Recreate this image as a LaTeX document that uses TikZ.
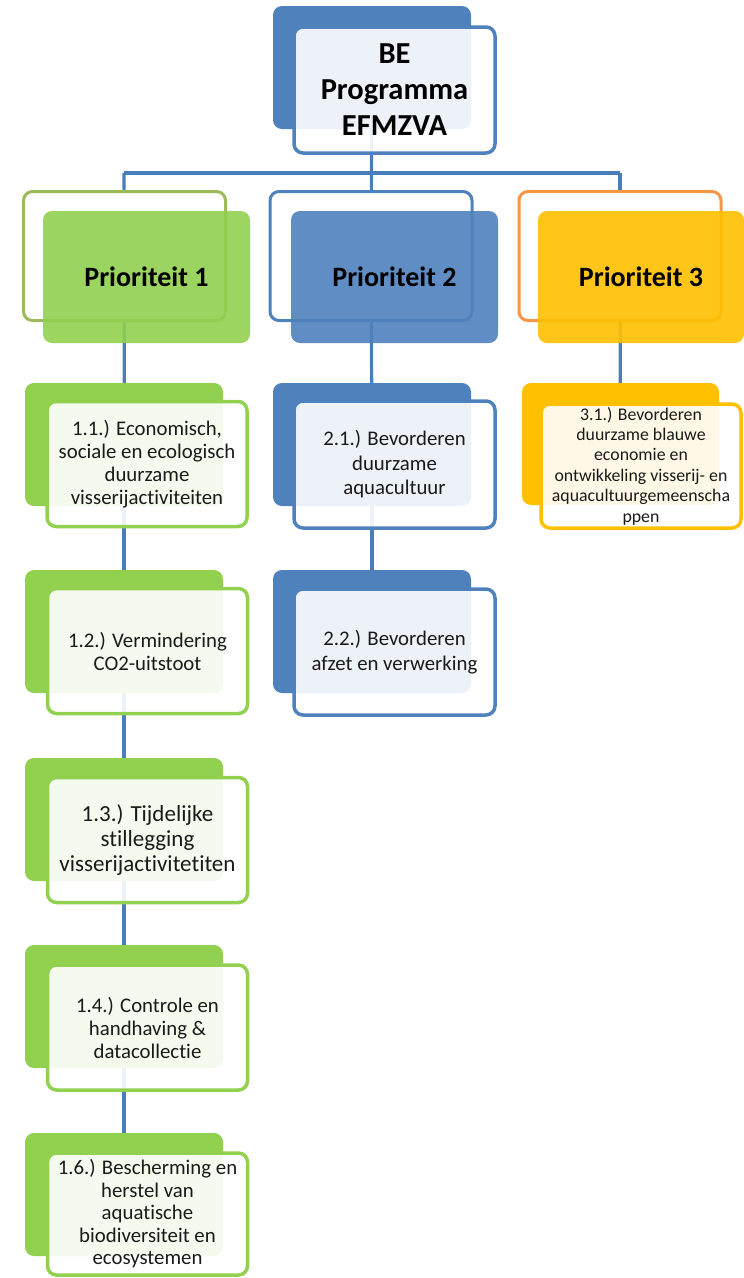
\documentclass[tikz,border=0pt]{standalone}
\usepackage{fontspec}
\setmainfont{Carlito}[Ligatures={NoCommon,NoContextual}]
\usetikzlibrary{positioning}
\definecolor{cblue}{HTML}{4F81BD}
\definecolor{cline}{HTML}{4A7EBB}
\definecolor{cgreen}{HTML}{92D050}
\definecolor{colive}{HTML}{9BBB59}
\definecolor{cgold}{HTML}{FFC000}
\definecolor{corange}{HTML}{F79646}
\definecolor{ctext}{HTML}{1A1A1A}
\pgfdeclarelayer{background}
\pgfsetlayers{background,main}
\tikzset{
  bx/.style={rectangle, rounded corners=9pt, inner sep=0pt, align=center},
  backbox/.style={bx, fill=#1, draw=none, minimum width=198pt, minimum height=123pt},
  frontbox/.style={bx, fill=white, fill opacity=0.9, text opacity=1, draw=#1, line width=3.5pt, minimum width=200pt, minimum height=125pt, text=ctext},
  outbox/.style={bx, fill=white, draw=#1, line width=3pt, minimum width=202pt, minimum height=129pt},
  fillbox/.style={bx, fill=#1, fill opacity=0.9, text opacity=1, draw=none, minimum width=207pt, minimum height=132pt, font=\fontsize{28}{32}\selectfont\bfseries},
  conn/.style={draw=cline, line width=3.2pt},
}
\begin{document}
\begin{tikzpicture}[x=1pt,y=-1pt]
\useasboundingbox (0,0) rectangle (744,1278);
% top
\node[backbox=cblue] (topb) at (372,67.5) {};
\node[frontbox=cblue, minimum width=201pt, minimum height=126pt, font=\fontsize{30.5}{36}\selectfont\bfseries, text=black] (top) at (394.5,90) {BE\\Programma\\EFMZVA};
% priorities
\node[outbox=colive] (p1o) at (124.5,256) {};
\node[fillbox=cgreen] (p1) at (146.5,277) {Prioriteit 1};
\node[outbox=cblue] (p2o) at (371,256) {};
\node[fillbox=cblue] (p2) at (394.5,277) {Prioriteit 2};
\node[outbox=corange] (p3o) at (620,256) {};
\node[fillbox=cgold, minimum width=206pt] (p3) at (641,277) {Prioriteit 3};
% column 1
\node[backbox=cgreen] (c11b) at (124,444.5) {};
\node[frontbox=cgreen, font=\fontsize{20.8}{23}\selectfont] (c11) at (147,464) {1.1.) Economisch,\\sociale en ecologisch\\duurzame\\visserijactiviteiten};
\node[backbox=cgreen] (c12b) at (124,631.5) {};
\node[frontbox=cgreen, font=\fontsize{20.8}{23}\selectfont] (c12) at (147.5,651) {1.2.) Vermindering\\CO2-uitstoot};
\node[backbox=cgreen] (c13b) at (124,819.5) {};
\node[frontbox=cgreen, font=\fontsize{23}{25}\selectfont] (c13) at (147.5,840) {1.3.) Tijdelijke\\stillegging\\visserijactivitetiten};
\node[backbox=cgreen] (c14b) at (124,1006.5) {};
\node[frontbox=cgreen, font=\fontsize{20.8}{23}\selectfont] (c14) at (147.5,1027.5) {1.4.) Controle en\\handhaving \&\\datacollectie};
\node[backbox=cgreen] (c16b) at (124,1194.5) {};
\node[frontbox=cgreen, minimum height=122pt, font=\fontsize{20.8}{22.5}\selectfont] (c16) at (147.5,1214) {1.6.) Bescherming en\\herstel van\\aquatische\\biodiversiteit en\\ecosystemen};
% column 2
\node[backbox=cblue] (c21b) at (372,444.5) {};
\node[frontbox=cblue, minimum width=201pt, minimum height=127pt, font=\fontsize{20.8}{24.5}\selectfont] (c21) at (394.5,464.5) {2.1.) Bevorderen\\duurzame\\aquacultuur};
\node[backbox=cblue] (c22b) at (372,631.5) {};
\node[frontbox=cblue, minimum width=201pt, minimum height=126pt, font=\fontsize{20.8}{24.5}\selectfont] (c22) at (394.5,652) {2.2.) Bevorderen\\afzet en verwerking};
% column 3
\node[backbox=cgold, minimum width=197pt, minimum height=122pt] (c31b) at (620.5,444) {};
\node[frontbox=cgold, minimum width=200pt, minimum height=124pt, font=\fontsize{17.8}{20.4}\selectfont] (c31) at (641,466) {3.1.) Bevorderen\\duurzame blauwe\\economie en\\ontwikkeling visserij- en\\aquacultuurgemeenscha\\ppen};
% connectors
\coordinate (b1) at (124,173);
\coordinate (b3) at (620,173);
\begin{pgfonlayer}{background}
\draw[conn] (b1) -- (b3);
\draw[conn] (topb.center) -- (p2o.center);
\draw[conn] (b1) -- (p1o.center);
\draw[conn] (b3) -- (p3o.center);
\draw[conn] (p1o.center) -- (c11b.center);
\draw[conn] (c11b.center) -- (c12b.center);
\draw[conn] (c12b.center) -- (c13b.center);
\draw[conn] (c13b.center) -- (c14b.center);
\draw[conn] (c14b.center) -- (c16b.center);
\draw[conn] (p2o.center) -- (c21b.center);
\draw[conn] (c21b.center) -- (c22b.center);
\draw[conn] (p3o.center) -- (c31b.center);
\end{pgfonlayer}
\end{tikzpicture}
\end{document}
